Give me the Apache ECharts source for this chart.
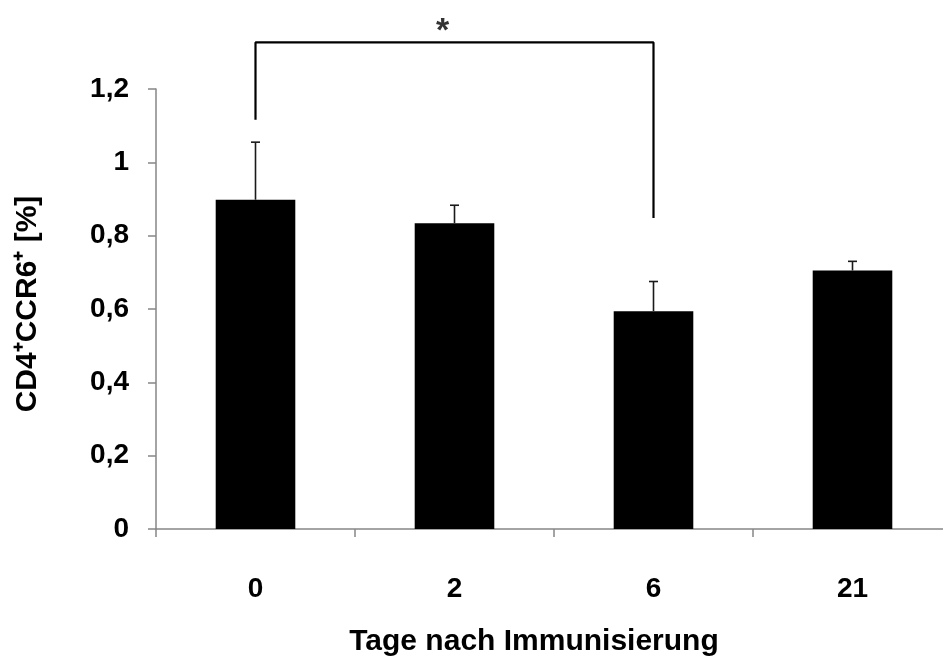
<!DOCTYPE html>
<html>
<head>
<meta charset="utf-8">
<script src="https://cdn.jsdelivr.net/npm/echarts@6/dist/echarts.min.js"></script>
<style>
  html, body { margin: 0; padding: 0; background: #fff; }
  #chart { width: 943px; height: 657px; }
</style>
</head>
<body>
<div id="chart"></div>
<script>
// Days after immunisation and CD4+CCR6+ frequency (mean, SD)
const categories = ['0', '2', '6', '21'];
const means = [0.898, 0.834, 0.594, 0.705];
const sd = [0.157, 0.049, 0.081, 0.025];
const yTicks = [0, 0.2, 0.4, 0.6, 0.8, 1, 1.2];

// Significance bracket between day 0 and day 6
const bracket = [[0, 1.116], [0, 1.327], [2, 1.327], [2, 0.848]];
const starPoint = [[1, 1.327]];

const FONT = '"Liberation Sans", Arial, sans-serif';
const AXIS_GREY = '#868686';

const chart = echarts.init(document.getElementById('chart'), null, { renderer: 'canvas' });

chart.setOption({
  animation: false,
  backgroundColor: '#ffffff',
  // plot area runs past the right edge of the canvas
  grid: { left: 156, top: 89, width: 796, bottom: 128, outerBoundsMode: 'none', containLabel: false },
  xAxis: {
    type: 'category',
    data: categories,
    boundaryGap: true,
    axisLine: { lineStyle: { color: AXIS_GREY, width: 1.5 } },
    axisTick: { show: true, length: 8, alignWithLabel: false, lineStyle: { color: AXIS_GREY, width: 1.5 } },
    axisLabel: { margin: 46, color: '#000', fontFamily: FONT, fontWeight: 'bold', fontSize: 28 },
    name: 'Tage nach Immunisierung',
    nameLocation: 'middle',
    nameGap: 98,
    nameTextStyle: { color: '#000', fontFamily: FONT, fontWeight: 'bold', fontSize: 30, padding: [0, 40, 0, 0] }
  },
  yAxis: {
    type: 'value',
    min: yTicks[0],
    max: yTicks[yTicks.length - 1],
    interval: 0.2,
    splitLine: { show: false },
    axisLine: { show: true, lineStyle: { color: AXIS_GREY, width: 1.5 } },
    axisTick: { show: true, length: 8, inside: false, lineStyle: { color: AXIS_GREY, width: 1.5 } },
    axisLabel: {
      margin: 27,
      color: '#000',
      fontFamily: FONT,
      fontWeight: 'bold',
      fontSize: 28,
      formatter: v => String(Math.round(v * 10) / 10).replace('.', ',')
    },
    name: 'CD4\u207ACCR6\u207A [%]',
    nameLocation: 'middle',
    nameRotate: 90,
    nameGap: 113,
    nameTextStyle: { color: '#000', fontFamily: FONT, fontWeight: 'bold', fontSize: 30, padding: [0, 0, 0, 10] }
  },
  series: [
    {
      name: 'Mittelwert',
      type: 'bar',
      data: means,
      barWidth: '40%',
      itemStyle: { color: '#000000' },
      z: 2
    },
    {
      name: 'SD',
      type: 'custom',
      data: means.map((m, i) => [i, m, m + sd[i]]),
      encode: { x: 0, y: [1, 2] },
      z: 3,
      renderItem: (params, api) => {
        const x = api.value(0);
        const base = api.coord([x, api.value(1)]);
        const top = api.coord([x, api.value(2)]);
        const cap = 4.5;
        const style = { stroke: '#1a1a1a', lineWidth: 1.6 };
        return {
          type: 'group',
          children: [
            { type: 'line', shape: { x1: base[0], y1: base[1], x2: top[0], y2: top[1] }, style },
            { type: 'line', shape: { x1: top[0] - cap, y1: top[1], x2: top[0] + cap, y2: top[1] }, style }
          ]
        };
      }
    },
    {
      name: 'Signifikanz',
      type: 'line',
      data: bracket,
      clip: false,
      symbol: 'none',
      lineStyle: { color: '#000', width: 2.2 },
      z: 4
    },
    {
      name: 'Stern',
      type: 'scatter',
      data: starPoint,
      clip: false,
      symbolSize: 0,
      label: {
        show: true,
        formatter: '*',
        position: 'top',
        distance: 0,
        offset: [-12, 6],
        color: '#000',
        fontFamily: FONT,
        fontWeight: 'bold',
        fontSize: 34
      },
      z: 4
    }
  ]
});
</script>
</body>
</html>
